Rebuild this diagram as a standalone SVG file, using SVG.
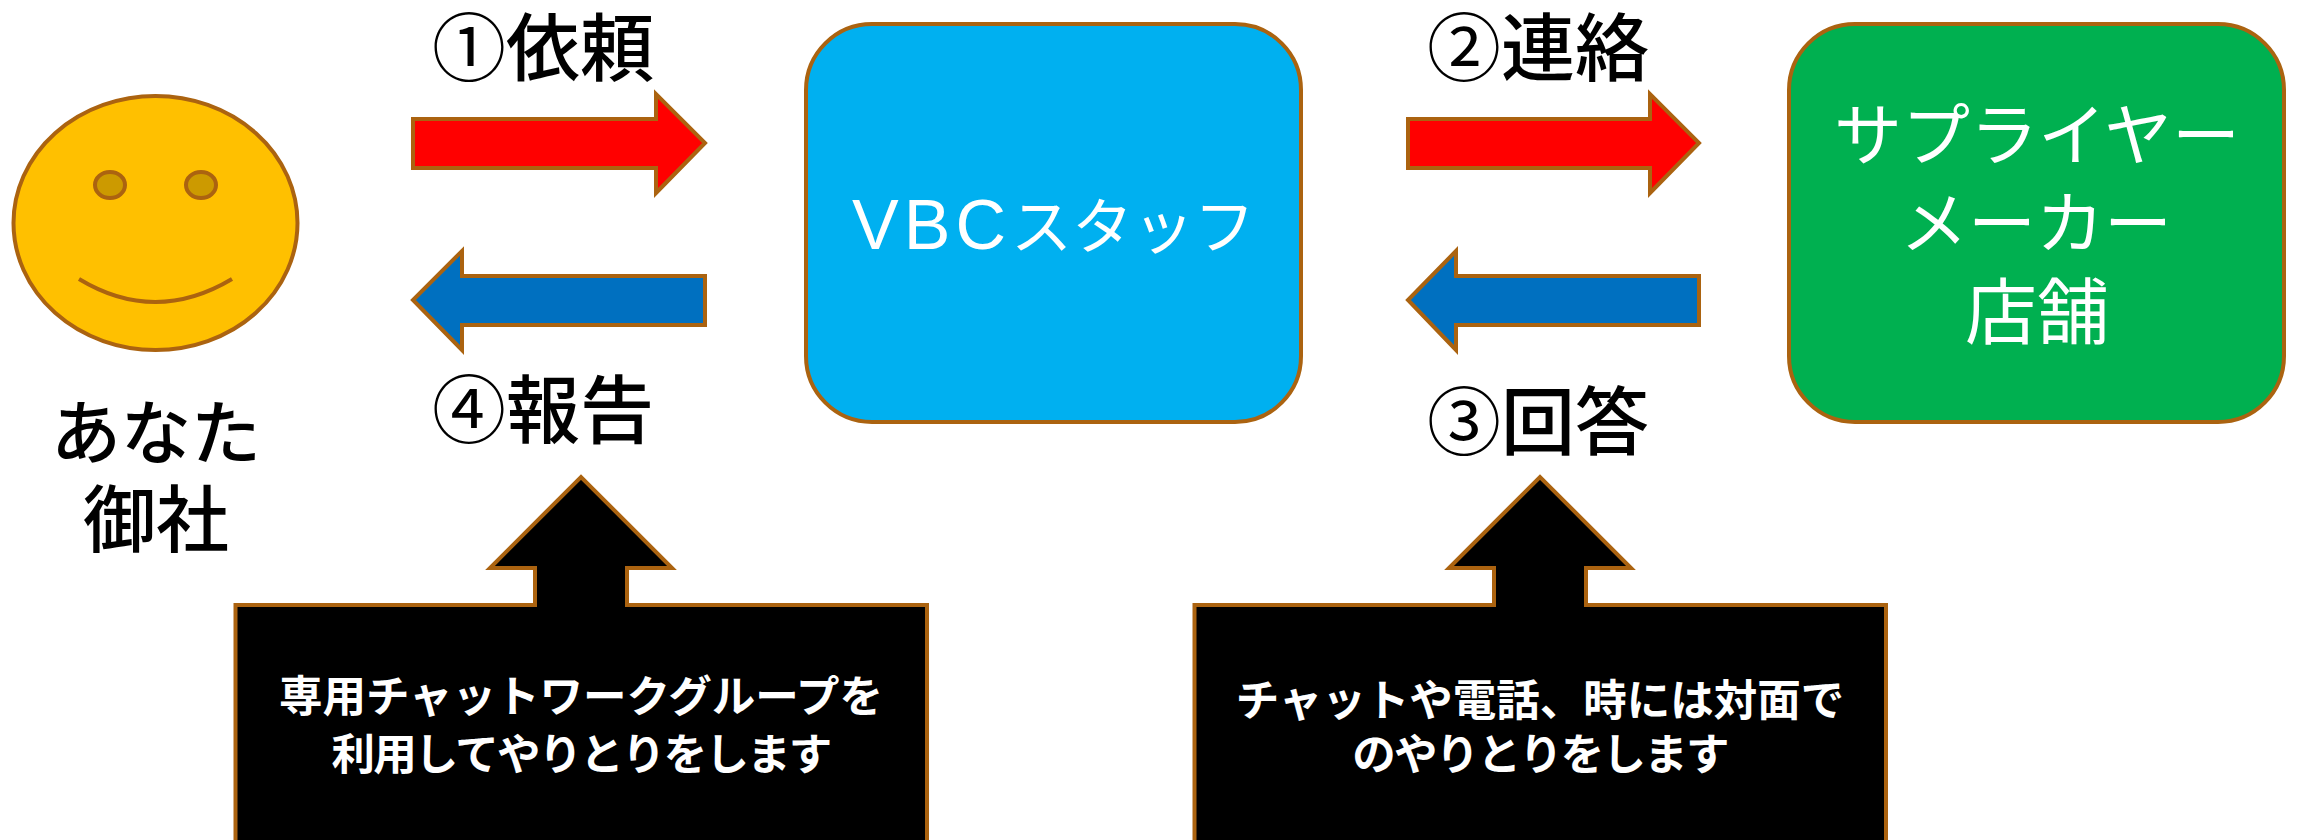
<svg xmlns="http://www.w3.org/2000/svg" width="2297" height="840" viewBox="0 0 2297 840">
<style>
text{font-family:"Noto Sans CJK JP","Noto Sans",sans-serif;text-anchor:middle}
.s{stroke:#AB6310;stroke-width:4;stroke-linejoin:miter}
.l{font-size:74px;fill:#000;font-weight:500}
.d{font-weight:400}
.a{font-size:70px;fill:#000;font-weight:500}
.w{font-size:68px;fill:#fff}
.n{font-size:43.500px;fill:#fff;font-weight:700}
.t{letter-spacing:-1.800px}
.red{fill:#F00}.blue{fill:#0070C0}.blk{fill:#000}
</style>
<rect width="2297" height="840" fill="#fff"/>
<g id="connectors">
<path class="s red" d="M413 119H656V94L705 143L656 193V168H413Z"/>
<path class="s blue" d="M705 276H462V251L413 300L462 350V325H705Z"/>
<path class="s red" d="M1408 119H1650V94L1699 143L1650 193V168H1408Z"/>
<path class="s blue" d="M1699 276H1456V251L1408 300L1456 350V325H1699Z"/>
</g>
<g id="face">
<ellipse class="s" cx="155.500" cy="223" rx="142" ry="127" fill="#FFC000"/>
<ellipse class="s" cx="110" cy="185" rx="15" ry="13" fill="#CC9A00"/>
<ellipse class="s" cx="201" cy="185" rx="15" ry="13" fill="#CC9A00"/>
<path class="s" fill="none" d="M79 279Q155 325 232 279"/>
<text class="a" x="156" y="459">あなた</text>
<text class="a" x="156" y="546" style="font-size:73px">御社</text>
</g>
<g id="staff">
<rect class="s" x="806" y="24" width="495" height="398" rx="66" fill="#00B0F0"/>
<text x="852" y="249" fill="#fff" style="text-anchor:start;font-size:61px"><tspan style="font-family:'Liberation Sans',sans-serif;font-size:70px;letter-spacing:5px">VBC</tspan><tspan>スタッフ</tspan></text>
</g>
<g id="supplier">
<rect class="s" x="1789" y="24" width="495" height="398" rx="66" fill="#00B050"/>
<text class="w" x="2037" y="160">サプライヤー</text>
<text class="w" x="2036" y="248">メーカー</text>
<text class="w" x="2037" y="338" style="font-size:72px">店舗</text>
</g>
<g id="label-1"><text class="l" x="543" y="75"><tspan class="d">①</tspan>依頼</text></g>
<g id="label-2"><text class="l" x="1538" y="75"><tspan class="d">②</tspan>連絡</text></g>
<g id="label-3"><text class="l" x="1538" y="449"><tspan class="d">③</tspan>回答</text></g>
<g id="label-4"><text class="l" x="543" y="437"><tspan class="d">④</tspan>報告</text></g>
<g id="note-left">
<path class="s blk" d="M235.500 842V605H535V568H490L581 477L672 568H627V605H927V842Z"/>
<text class="n" x="581" y="712">専用チャットワークグループを</text>
<text class="n t" x="581" y="770">利用してやりとりをします</text>
</g>
<g id="note-right">
<path class="s blk" d="M1194.500 842V605H1494V568H1449L1540 477L1631 568H1586V605H1886V842Z"/>
<text class="n" x="1540" y="716">チャットや電話、時には対面で</text>
<text class="n t" x="1540" y="770">のやりとりをします</text>
</g>
</svg>
